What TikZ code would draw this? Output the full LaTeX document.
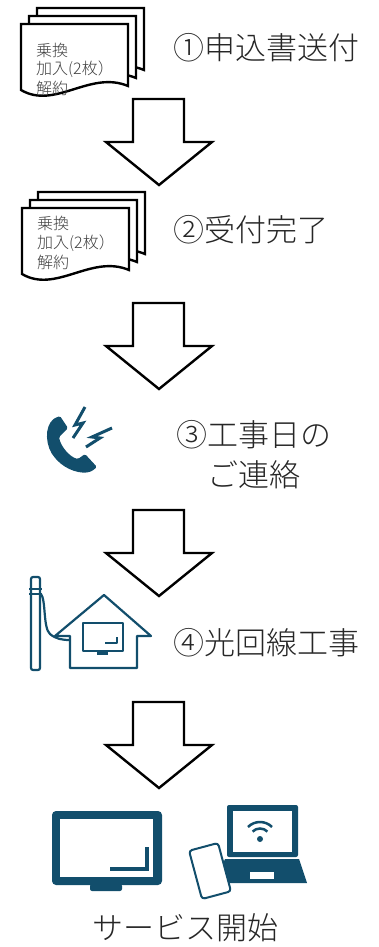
\documentclass[tikz,border=0pt]{standalone}
\usepackage{fontspec}
\setmainfont{Noto Sans CJK JP}[UprightFont=* Light]
\usepackage{tikz}
\definecolor{iconblue}{RGB}{18,78,108}
\newcommand{\downarw}[1]{\draw[blockarw] (133,#1) -- (184,#1) -- (184,#1+43) -- (212,#1+43) -- (159,#1+86) -- (106,#1+43) -- (133,#1+43) -- cycle;}
\newcommand{\sheet}[2]{\draw[sheetline,shift={(#1,#2)}] (0,0) -- (107,0) -- (107,62) .. controls (69,46) and (34,86) .. (0,66) -- cycle;}

\begin{document}
\begin{tikzpicture}[x=1pt,y=-1pt,
  lbl/.style={inner sep=0pt,text=black!85,font=\fontsize{31}{40}\selectfont},
  memo/.style={inner sep=0pt,anchor=west,text=black!75,font=\fontsize{16}{19}\selectfont},
  blockarw/.style={draw=black,fill=white,line width=2.4pt,line join=miter},
  sheetline/.style={draw=black,fill=white,line width=2.4pt},
  iconline/.style={draw=iconblue,line width=2.2pt,line join=round}]
\useasboundingbox (0,0) rectangle (378,947);
%application forms
\sheet{37}{8}
\sheet{29}{16}
\sheet{21}{24}
\node[memo] (memoA1) at (36,50) {乗換};
\node[memo] (memoA2) at (36,69) {加入(2枚）};
\node[memo] (memoA3) at (36,88) {解約};
\node[lbl,anchor=west] (send) at (173,48) {①申込書送付};
\downarw{99}
%received
\sheet{38}{192}
\sheet{30}{200}
\sheet{22}{208}
\node[memo] (memoB1) at (37,223) {乗換};
\node[memo] (memoB2) at (37,243) {加入(2枚）};
\node[memo] (memoB3) at (37,262) {解約};
\node[lbl,anchor=west] (accept) at (173,230) {②受付完了};
\downarw{303}
%phone call
\fill[iconblue,rounded corners=1.5pt] (68,428) -- (60,416) -- (55,418) .. controls (44,426) and (45,447) .. (56,459) .. controls (66,470) and (82,475) .. (92,471) -- (97,467) -- (85,454) -- (78,459) .. controls (70,457) and (61,447) .. (59,437) -- cycle;
\draw[iconblue,line width=3pt,line join=miter] (85,407) -- (75,425) -- (83,423) -- (73,438);
\draw[iconblue,line width=3pt,line join=miter] (112,428) -- (92,437) -- (100,438) -- (86,447);
\node[lbl,align=center] (call) at (254,455) {③工事日の\\ご連絡};
\downarw{510}
%line work
\draw[iconline,rounded corners=2pt] (31,577) rectangle (40,670);
\draw[iconline] (29,589) -- (42,589);
\draw[iconline] (29,594) -- (42,594);
\draw[iconline] (41,594) .. controls (46,600) and (43,628) .. (50,634) .. controls (56,639) and (62,640) .. (70,640);
\draw[iconline] (70,668) -- (70,636) -- (55,636) -- (104,595) -- (151,636) -- (137,636) -- (137,668) -- cycle;
\draw[iconline,line width=2.6pt] (83,623) rectangle (123,651);
\draw[iconline] (105,643) -- (117,643) -- (117,637);
\fill[iconblue] (97,651) rectangle (108,655);
\node[lbl,anchor=west] (work) at (173,643) {④光回線工事};
\downarw{702}
%tv
\fill[iconblue,rounded corners=4pt] (52,811) rectangle (162,885);
\fill[white] (60,819) rectangle (153,877);
\draw[iconblue,line width=4pt] (110,869) -- (147,869) -- (147,847);
\fill[iconblue,rounded corners=2pt] (90,884) rectangle (122,891);
%laptop and smartphone
\fill[iconblue,rounded corners=2pt] (227,805) rectangle (298,857);
\fill[white] (233,811) rectangle (292,852);
\fill[iconblue] (225,859) -- (299,859) -- (307,883) -- (215,883) -- cycle;
\fill[white] (250,872) rectangle (274,879);
\draw[iconblue,line width=2.5pt] (260,839) ++(-45:17) arc[start angle=-45,end angle=-135,radius=17];
\draw[iconblue,line width=2.5pt] (260,839) ++(-45:10.5) arc[start angle=-45,end angle=-135,radius=10.5];
\fill[iconblue] (260,839) circle (3);
\draw[iconblue,fill=white,line width=2pt,rounded corners=3pt,rotate around={15:(210,871)}] (195,846) rectangle (225,896);
\node[lbl] (start) at (185,928) {サービス開始};
\end{tikzpicture}
\end{document}
